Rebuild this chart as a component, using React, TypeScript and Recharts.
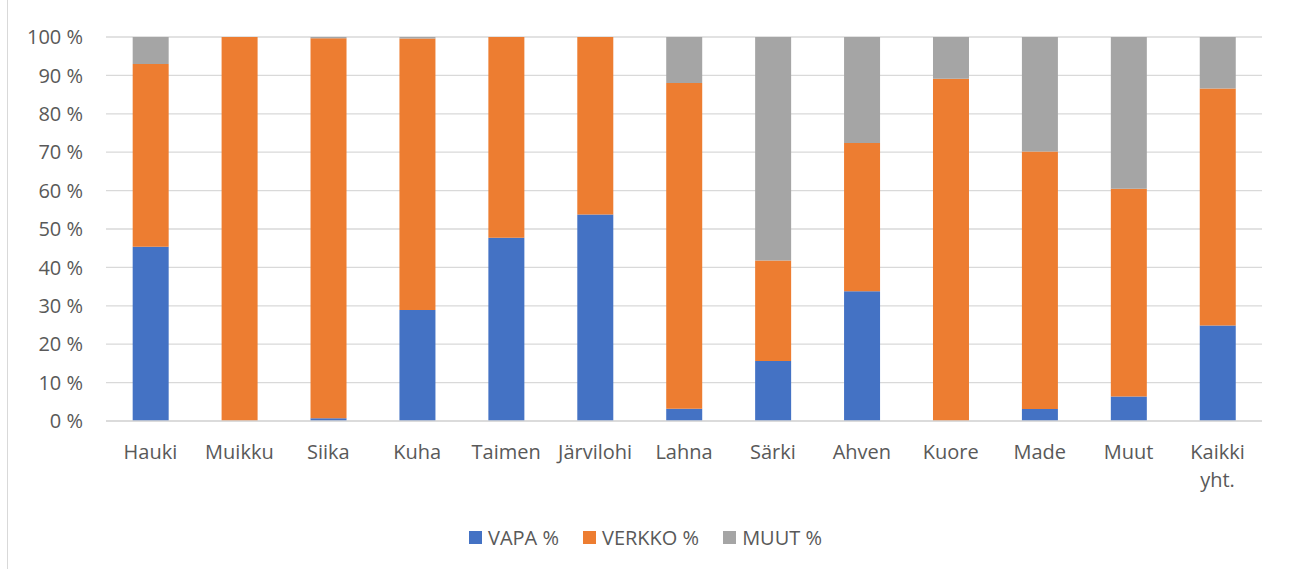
import { BarChart, Bar, XAxis, YAxis, CartesianGrid, Legend } from 'recharts'

const categories = ['Hauki', 'Muikku', 'Siika', 'Kuha', 'Taimen', 'Järvilohi', 'Lahna', 'Särki', 'Ahven', 'Kuore', 'Made', 'Muut', 'Kaikki yht.']
const vapa = [45.4, 0, 0.7, 28.9, 47.7, 53.8, 3.2, 15.6, 33.8, 0, 3.1, 6.4, 24.9]
const verkko = [47.6, 100, 99.0, 70.7, 52.3, 46.2, 84.8, 26.2, 38.6, 89.1, 67.1, 54.1, 61.7]
const muut = [7.0, 0, 0.3, 0.4, 0, 0, 12.0, 58.2, 27.6, 10.9, 29.8, 39.5, 13.4]
const yTicks = [0, 10, 20, 30, 40, 50, 60, 70, 80, 90, 100]

const data = categories.map((name, i) => ({
  name,
  vapa: vapa[i],
  verkko: verkko[i],
  muut: muut[i],
}))

const FONT = '"Open Sans", "Noto Sans", sans-serif'
const TEXT = '#595959'
const FS = 20

const series = [
  { key: 'vapa', label: 'VAPA %', color: '#4472C4' },
  { key: 'verkko', label: 'VERKKO %', color: '#ED7D31' },
  { key: 'muut', label: 'MUUT %', color: '#A5A5A5' },
]

function CategoryTick({ x, y, payload }: any) {
  const lines = String(payload.value).split(' ')
  return (
    <text x={x} y={y} textAnchor="middle" fill={TEXT} fontSize={FS} fontFamily={FONT}>
      {lines.map((l, i) => (
        <tspan key={i} x={x} dy={i === 0 ? 38 : 28}>
          {l}
        </tspan>
      ))}
    </text>
  )
}

function LegendContent() {
  return (
    <div style={{ display: 'flex', justifyContent: 'center', alignItems: 'center', gap: 24, fontFamily: FONT, fontSize: FS, color: TEXT }}>
      {series.map((s) => (
        <div key={s.key} style={{ display: 'flex', alignItems: 'center', gap: 6 }}>
          <span style={{ display: 'inline-block', width: 13, height: 13, background: s.color }} />
          <span>{s.label}</span>
        </div>
      ))}
    </div>
  )
}

export default function App() {
  return (
    <div style={{ position: 'relative', width: 1291, height: 569, background: '#fff' }}>
      <style>{'body{margin:0}'}</style>
      <div style={{ position: 'absolute', left: 7, top: 0, bottom: 0, width: 1, background: '#d9d9d9' }} />
      <div style={{ position: 'absolute', left: 0, top: 0 }}>
        <BarChart
          width={1291}
          height={569}
          data={data}
          margin={{ top: 37, right: 29, left: 0, bottom: 118 }}
          barCategoryGap="30%"
        >
          <CartesianGrid vertical={false} stroke="#d9d9d9" strokeWidth={1.3} />
          <XAxis
            dataKey="name"
            interval={0}
            height={30}
            tickLine={false}
            tickSize={0}
            tickMargin={0}
            axisLine={{ stroke: '#d9d9d9', strokeWidth: 1.3 }}
            tick={<CategoryTick />}
          />
          <YAxis
            width={106}
            domain={[0, 100]}
            ticks={yTicks}
            tickLine={false}
            axisLine={false}
            tickSize={0}
            tickMargin={23}
            tick={{ fontSize: FS, fill: TEXT, fontFamily: FONT }}
            tickFormatter={(v) => `${v} %`}
          />
          <Legend
            layout="horizontal"
            verticalAlign="middle"
            align="center"
            wrapperStyle={{ top: 524, left: 0, width: 1291, height: 0, overflow: 'visible' }}
            content={<LegendContent />}
          />
          {series.map((s) => (
            <Bar key={s.key} dataKey={s.key} stackId="a" fill={s.color} isAnimationActive={false} />
          ))}
        </BarChart>
      </div>
    </div>
  )
}
